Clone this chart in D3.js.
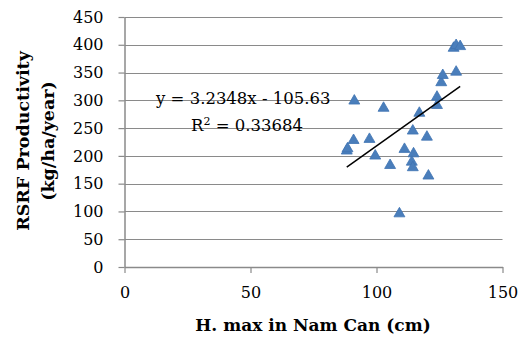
<!DOCTYPE html>
<html>
<head>
<meta charset="utf-8">
<script src="https://cdn.jsdelivr.net/npm/d3@7"></script>
<style>
  html, body { margin: 0; padding: 0; background: #fff; }
  svg { display: block; }
  text { font-family: "DejaVu Serif", serif; fill: #000; }
</style>
</head>
<body>
<svg id="chart" width="531" height="341"></svg>
<script>
// Maximum water level at Nam Can (cm) vs RSRF productivity (kg/ha/year)
const hMax = [88.2, 88.5, 90.9, 91.2, 97.2, 99.5, 102.8, 105.4, 109.1, 111.1,
              114.4, 114.7, 114.0, 114.4, 117.0, 120.0, 120.6, 124.0, 124.0,
              125.7, 126.3, 130.6, 131.6, 131.6, 133.2];
const productivity = [209, 213, 228, 299, 230, 200, 286, 183, 96, 212,
                      245, 204, 189, 179, 277, 234, 164, 291, 306,
                      332, 345, 394, 399, 351, 397];

const xTicks = [0, 50, 100, 150];
const yTicks = [0, 50, 100, 150, 200, 250, 300, 350, 400, 450];

// Linear trend line
const trendSlope = 3.2348;
const trendIntercept = -105.63;
const equationLabel = "y = 3.2348x - 105.63";
const r2Value = "0.33684";

const xTitle = "H. max in Nam Can (cm)";
const yTitleLines = ["RSRF Productivity", "(kg/ha/year)"];

const svg = d3.select("#chart");
const plot = { left: 124.5, right: 502.5, top: 17, bottom: 267 };

const x = d3.scaleLinear().domain([0, 150]).range([plot.left, plot.right]);
const y = d3.scaleLinear().domain([0, 450]).range([plot.bottom, plot.top]);

const gridColor = "#8a8a8a";

// Horizontal gridlines
svg.append("g")
  .selectAll("line")
  .data(yTicks.filter(d => d > 0))
  .join("line")
  .attr("x1", plot.left).attr("x2", plot.right)
  .attr("y1", d => Math.round(y(d)) + 0.5).attr("y2", d => Math.round(y(d)) + 0.5)
  .attr("stroke", gridColor).attr("stroke-width", 1.2);

// Y axis
const yAxis = svg.append("g")
  .attr("transform", `translate(${plot.left},0)`)
  .call(d3.axisLeft(y).tickValues(yTicks).tickSize(6).tickPadding(15).tickSizeOuter(0));

// X axis
const xAxis = svg.append("g")
  .attr("transform", `translate(0,${plot.bottom})`)
  .call(d3.axisBottom(x).tickValues(xTicks).tickSize(6).tickPadding(14).tickSizeOuter(0));

[yAxis, xAxis].forEach(g => {
  g.select(".domain").attr("stroke", gridColor).attr("stroke-width", 1.5);
  g.selectAll(".tick line").attr("stroke", gridColor).attr("stroke-width", 1.2);
  g.selectAll(".tick text")
    .attr("font-family", "DejaVu Serif")
    .attr("font-size", 16)
    .attr("fill", "#000");
});

// Scatter points
const tri = d3.symbol().type(d3.symbolTriangle).size(52);
svg.append("g")
  .selectAll("path")
  .data(hMax.map((h, i) => [h, productivity[i]]))
  .join("path")
  .attr("d", tri)
  .attr("transform", d => `translate(${x(d[0])},${y(d[1])})`)
  .attr("fill", "#4a7ebb")
  .attr("stroke", "#3f74b3")
  .attr("stroke-width", 0.8);

// Trend line spanning the observed range
const xMin = d3.min(hMax), xMax = d3.max(hMax);
svg.append("line")
  .attr("x1", x(xMin)).attr("y1", y(trendSlope * xMin + trendIntercept))
  .attr("x2", x(xMax)).attr("y2", y(trendSlope * xMax + trendIntercept))
  .attr("stroke", "#000").attr("stroke-width", 1.5);

// Equation and R²
svg.append("text")
  .attr("x", 156).attr("y", 104)
  .attr("font-size", 16.5)
  .text(equationLabel);

const r2 = svg.append("text")
  .attr("x", 191).attr("y", 131)
  .attr("font-size", 16.5);
r2.append("tspan").text("R");
r2.append("tspan").attr("dy", -6).attr("font-size", 11).text("2");
r2.append("tspan").attr("dy", 6).text(" = " + r2Value);

// Axis titles
svg.append("text")
  .attr("x", 313).attr("y", 331)
  .attr("text-anchor", "middle")
  .attr("font-weight", "bold")
  .attr("font-size", 17)
  .text(xTitle);

svg.append("g")
  .attr("transform", "translate(29,141) rotate(-90)")
  .selectAll("text")
  .data(yTitleLines)
  .join("text")
  .attr("x", 0)
  .attr("y", (d, i) => i * 25)
  .attr("text-anchor", "middle")
  .attr("font-weight", "bold")
  .attr("font-size", 17.5)
  .text(d => d);
</script>
</body>
</html>
